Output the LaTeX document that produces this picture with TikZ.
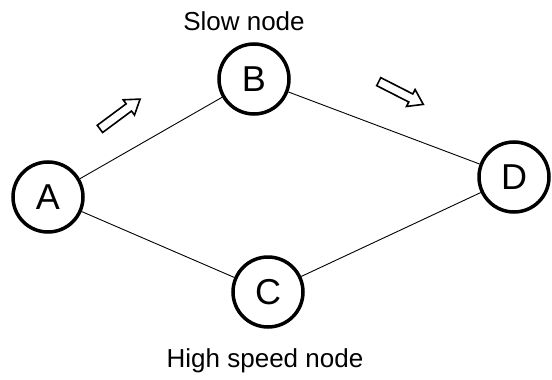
\documentclass[tikz,border=0pt]{standalone}
\usepackage{fontspec}
\setmainfont{Liberation Sans}
\begin{document}
\begin{tikzpicture}[x=1pt,y=-1pt,
  vertex/.style={circle,draw=black,line width=3.5pt,fill=white,minimum size=70pt,inner sep=0pt,font=\fontsize{36}{40}\selectfont},
  edge/.style={line width=0.9pt},
  flow/.style={draw=black,line width=1.6pt,fill=white,line join=miter},
  lbl/.style={font=\fontsize{26}{30}\selectfont}]
\useasboundingbox (0,0) rectangle (552,380);
\node[vertex] (A) at (48,197) {A};
\node[vertex] (B) at (254,79) {B};
\node[vertex] (C) at (268,292) {C};
\node[vertex] (D) at (514,177) {D};
\draw[edge] (A) -- (B);
\draw[edge] (B) -- (D);
\draw[edge] (A) -- (C);
\draw[edge] (C) -- (D);
\begin{scope}[shift={(120,114)},rotate=36.6]
  \draw[flow] (-25,-4.5) -- (11,-4.5) -- (11,-9.5) -- (25,0) -- (11,9.5) -- (11,4.5) -- (-25,4.5) -- cycle;
\end{scope}
\begin{scope}[shift={(401,93)},rotate=-27]
  \draw[flow] (-25,-4.5) -- (11,-4.5) -- (11,-9.5) -- (25,0) -- (11,9.5) -- (11,4.5) -- (-25,4.5) -- cycle;
\end{scope}
\node[lbl] (ls) at (244,21) {Slow node};
\node[lbl] (lh) at (265,361) {High speed node};
\end{tikzpicture}
\end{document}
